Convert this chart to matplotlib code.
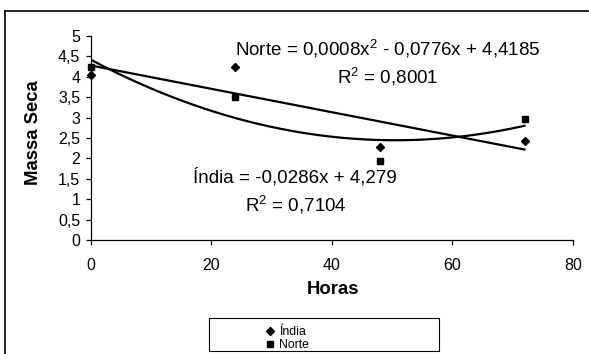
import matplotlib as mpl
mpl.use('Agg')
import matplotlib.pyplot as plt
from matplotlib.lines import Line2D
from matplotlib.patches import Rectangle
import numpy as np

plt.rcParams['font.family'] = ['Liberation Sans', 'DejaVu Sans']
plt.rcParams['mathtext.fontset'] = 'custom'
plt.rcParams['mathtext.rm'] = 'Liberation Sans'

## data
horas = [0, 24, 48, 72]
india = [4.05, 4.25, 2.27, 2.42]
norte = [4.25, 3.50, 1.94, 2.97]
yticks = [0, 0.5, 1, 1.5, 2, 2.5, 3, 3.5, 4, 4.5, 5]
ylabels = ['0', '0,5', '1', '1,5', '2', '2,5', '3', '3,5', '4', '4,5', '5']
xticks = [0, 20, 40, 60, 80]
eq_norte = 'Norte = 0,0008x$^{\\mathregular{2}}$ - 0,0776x + 4,4185'
r2_norte = 'R$^{\\mathregular{2}}$ = 0,8001'
eq_india = '\u00cdndia = -0,0286x + 4,279'
r2_india = 'R$^{\\mathregular{2}}$ = 0,7104'

W, H = 589, 354

def fx(px):
    return px / W

def fy(py):
    return 1 - py / H

fig = plt.figure(figsize=(W / 100, H / 100), dpi=100)
ax = fig.add_axes([fx(90.7), fy(240), fx(572.7) - fx(90.7), fy(36) - fy(240)])

# trendlines fitted from the points
xx = np.linspace(0, 72, 200)
lin = np.polyfit(horas, india, 1)
quad = np.polyfit(horas, norte, 2)
ax.plot(xx, np.polyval(lin, xx), color='black', lw=1.6)
ax.plot(xx, np.polyval(quad, xx), color='black', lw=1.6)

ax.plot(horas, india, 'D', color='black', ms=4.3, ls='none', clip_on=False)
ax.plot(horas, norte, 's', color='black', ms=5, ls='none', clip_on=False)

ax.set_xlim(0, 80)
ax.set_ylim(0, 5)
ax.set_xticks(xticks)
ax.set_yticks(yticks)
ax.set_yticklabels(ylabels)
for s in ['top', 'right']:
    ax.spines[s].set_visible(False)
for s in ['left', 'bottom']:
    ax.spines[s].set_linewidth(0.9)
ax.tick_params(axis='y', direction='out', length=3.6, width=0.9, pad=4, labelsize=11.5)
ax.tick_params(axis='x', direction='out', length=3.6, width=0.9, pad=9, labelsize=11.5)

fig.text(fx(33), fy(133), 'Massa Seca', rotation=90, ha='center', va='center',
         fontsize=13.3, fontweight='bold')
fig.text(fx(333), fy(289), 'Horas', ha='center', va='center',
         fontsize=13.3, fontweight='bold')

fig.text(fx(235), fy(55), eq_norte, ha='left', va='baseline', fontsize=13.5)
fig.text(fx(388), fy(84), r2_norte, ha='center', va='baseline', fontsize=13.5)
fig.text(fx(295), fy(183), eq_india, ha='center', va='baseline', fontsize=13.5)
fig.text(fx(296), fy(212), r2_india, ha='center', va='baseline', fontsize=13.5)

# legend box
fig.add_artist(Rectangle((fx(208.5), fy(351)), fx(439) - fx(208.5), fy(318) - fy(351),
                         transform=fig.transFigure, fill=False, edgecolor='black', lw=0.8))
handles = [Line2D([], [], marker='D', ms=3.8, color='black', ls='none'),
           Line2D([], [], marker='s', ms=4.3, color='black', ls='none')]
fig.legend(handles, ['\u00cdndia', 'Norte'], loc='upper left',
           bbox_to_anchor=(fx(258), fy(320)), frameon=False, fontsize=8.8,
           handlelength=1.0, handletextpad=0.2, labelspacing=0.1, borderpad=0)

# outer chart frame (cut at right and bottom)
fig.add_artist(Line2D([fx(5), 1], [fy(11), fy(11)], transform=fig.transFigure, color='black', lw=1.2))
fig.add_artist(Line2D([fx(5), fx(5)], [fy(11), 0], transform=fig.transFigure, color='black', lw=1.2))

plt.savefig('out.png', dpi=100)
